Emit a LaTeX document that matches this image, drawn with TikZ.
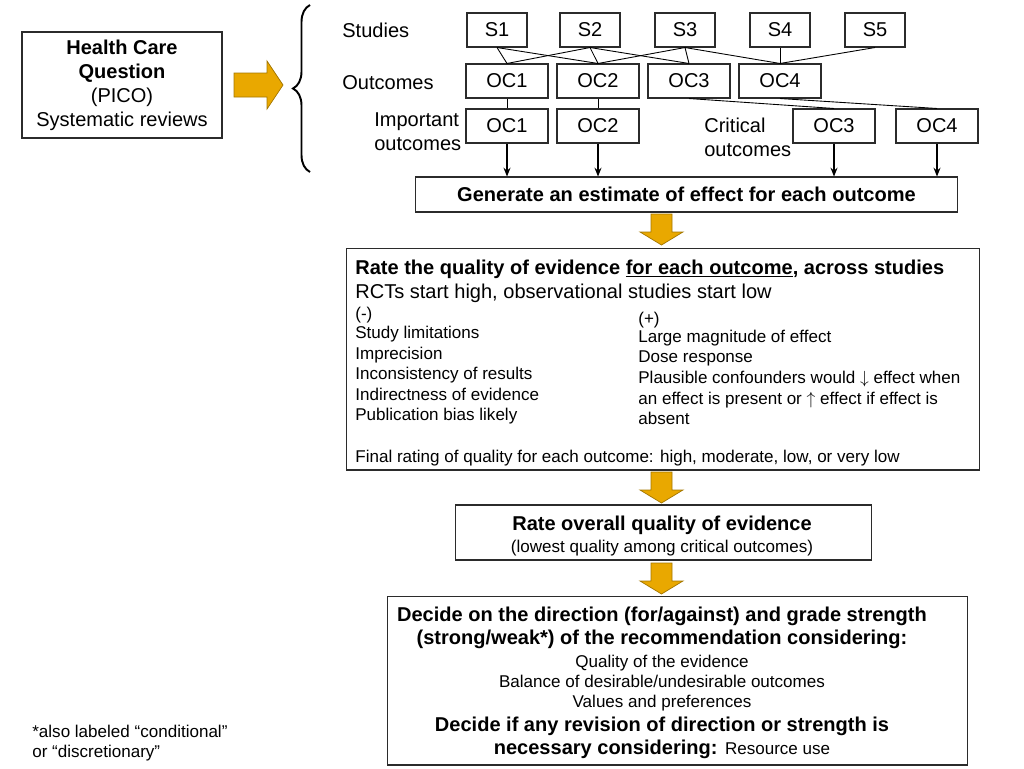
\documentclass[tikz,border=0pt]{standalone}
\usepackage{fontspec}
\setmainfont{Liberation Sans}
\usetikzlibrary{arrows.meta,decorations.pathreplacing}
\definecolor{gradegold}{HTML}{E9A800}
\definecolor{boxline}{HTML}{2B2B2B}
\newcommand{\bigtxt}{\fontsize{11.4}{13.66}\selectfont}
\newcommand{\smalltxt}{\fontsize{9.7}{11.4}\selectfont}

\begin{document}
\begin{tikzpicture}[x=0.02cm, y=-0.02cm, font=\bigtxt, >={Stealth[length=5pt,width=4pt]},
    sbox/.style={draw=boxline, line width=0.6pt, minimum width=1.2cm,
                 minimum height=0.68cm, inner sep=0pt},
    ocbox/.style={sbox, minimum width=1.64cm},
    bigbox/.style={draw=boxline, line width=0.6pt, inner sep=0pt},
    blockarrow/.style={fill=gradegold, draw=gradegold!70!black, line width=0.4pt},
    txt/.style={anchor=base west, inner sep=0pt},
    item/.style={txt, font=\smalltxt},
    ctrline/.style={anchor=base, inner sep=0pt}]
  \useasboundingbox (0,0) rectangle (1024,768);
  % the question and where it leads
  \node[bigbox, minimum width=4cm, minimum height=2.12cm, align=center] (pico) at (122,85)
      {\textbf{Health Care}\\\textbf{Question}\\(PICO)\\Systematic reviews};
  \draw[blockarrow] (234,73) -- (267,73) -- (267,61) -- (283,85) -- (267,109)
      -- (267,97) -- (234,97) -- cycle;
  \draw[decorate, decoration={brace, amplitude=0.34cm}, line width=1.1pt]
      (310,172) -- (310,5);
  % studies and outcomes
  \node[txt] (studlbl) at (342,37) {Studies};
  \node[txt] (outlbl) at (342,89) {Outcomes};
  \foreach \i/\x in {1/497, 2/590, 3/685, 4/780, 5/875}
    \node[sbox] (s\i) at (\x,30) {S\i};
  \foreach \i/\x in {1/507, 2/598, 3/689, 4/780}
    \node[ocbox] (o\i) at (\x,81) {OC\i};
  \foreach \i/\x in {1/507, 2/598, 3/834, 4/937}
    \node[ocbox] (r\i) at (\x,126) {OC\i};
  \foreach \s/\o in {1/1, 1/2, 2/1, 2/2, 2/3, 3/2, 3/3, 3/4, 4/4, 5/4}
    \draw[line width=0.5pt] (s\s.south) -- (o\o.north);
  \foreach \i in {1,...,4}
    \draw[line width=0.5pt] (o\i.south) -- (r\i.north);
  \node[anchor=west, align=left, inner sep=0pt] (implbl) at (374,132) {Important\\outcomes};
  \node[anchor=west, align=left, inner sep=0pt] (critlbl) at (704,137) {Critical\\outcomes};
  % estimate box
  \node[bigbox, minimum width=10.86cm, minimum height=0.7cm, font=\bfseries\bigtxt]
      (gen) at (686.5,194.5) {Generate an estimate of effect for each outcome};
  \foreach \i in {1,...,4}
    \draw[->, line width=0.6pt] (r\i.south) -- (r\i.south |- gen.north);
  % down arrows between the steps
  \foreach \y in {214, 472, 563}
    \draw[blockarrow] (651,\y) -- (672,\y) -- (672,{\y+18}) -- (683,{\y+18})
        -- (661.5,{\y+31}) -- (640,{\y+18}) -- (651,{\y+18}) -- cycle;
  % quality per outcome
  \node[bigbox, minimum width=12.68cm, minimum height=4.44cm] (quality) at (663,359) {};
  \node[txt, font=\bfseries\bigtxt] (qtitle) at (355,274)
      {Rate the quality of evidence \underline{for each outcome}, across studies};
  \node[txt] (qsub) at (355,298) {RCTs start high, observational studies start low};
  \foreach \y/\t [count=\k] in {313/(-), 332/Study limitations, 353/Imprecision,
      373/Inconsistency of results, 394/Indirectness of evidence,
      414/Publication bias likely}
    \node[item] (minus\k) at (355,{\y+6}) {\t};
  \foreach \y/\t [count=\k] in {318/(+), 336/Large magnitude of effect,
      356/Dose response, 377/Plausible confounders would $\downarrow$ effect when,
      398/an effect is present or $\uparrow$ effect if effect is, 418/absent}
    \node[item] (plus\k) at (638,{\y+6}) {\t};
  \node[item] (final) at (355,462)
      {Final rating of quality for each outcome: high, moderate, low, or very low};
  % overall quality
  \node[bigbox, minimum width=8.34cm, minimum height=1.1cm] (overall) at (663.5,532.5) {};
  \node[ctrline, font=\bfseries\bigtxt] (otitle) at (662,530) {Rate overall quality of evidence};
  \node[ctrline, font=\smalltxt] (osub) at (662,552) {(lowest quality among critical outcomes)};
  % recommendation
  \node[bigbox, minimum width=11.62cm, minimum height=3.38cm] (decide) at (677.5,680.5) {};
  \node[ctrline, font=\bfseries\bigtxt] (d1) at (662,621)
      {Decide on the direction (for/against) and grade strength};
  \node[ctrline, font=\bfseries\bigtxt] (d2) at (662,644)
      {(strong/weak*) of the recommendation considering:};
  \node[ctrline, font=\smalltxt] (d3) at (662,667) {Quality of the evidence};
  \node[ctrline, font=\smalltxt] (d4) at (662,687) {Balance of desirable/undesirable outcomes};
  \node[ctrline, font=\smalltxt] (d5) at (662,707) {Values and preferences};
  \node[ctrline, font=\bfseries\bigtxt] (d6) at (662,731)
      {Decide if any revision of direction or strength is};
  \node[ctrline, font=\bigtxt] (d7) at (662,754)
      {\textbf{necessary considering:} {\smalltxt Resource use}};
  % footnote
  \node[anchor=west, align=left, inner sep=0pt, font=\smalltxt] (note) at (32,743)
      {*also labeled “conditional”\\or “discretionary”};
\end{tikzpicture}
\end{document}
